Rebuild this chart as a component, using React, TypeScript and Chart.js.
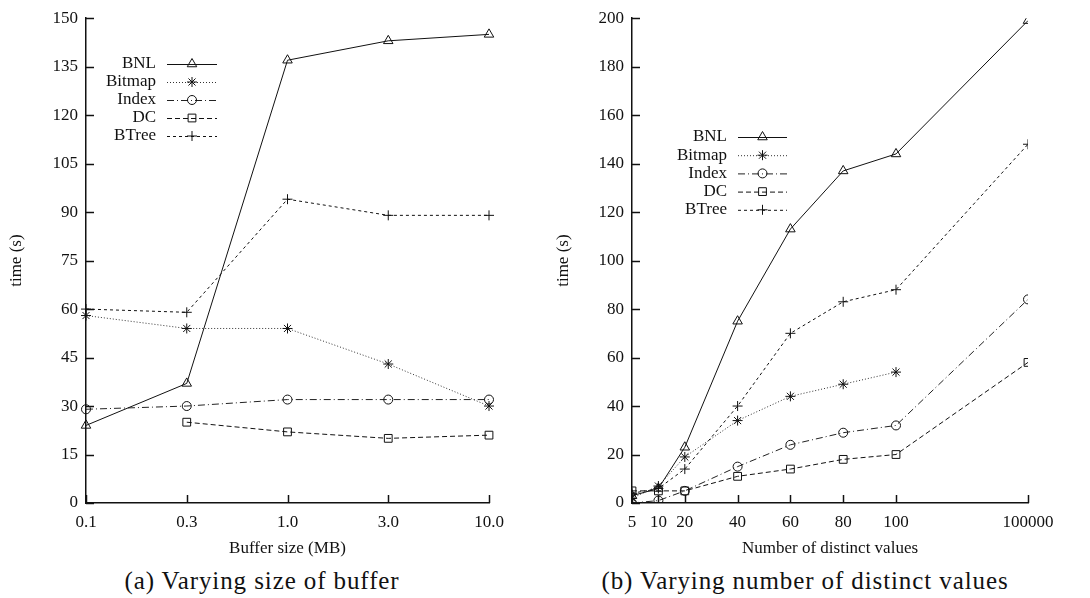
import React, { useEffect, useRef } from "react";
import { Chart, registerables } from "chart.js";

Chart.register(...registerables);

// ---- (a) buffer size experiment ----
const bufferLabels = ["0.1", "0.3", "1.0", "3.0", "10.0"];
const bufferBNL = [24, 37, 137, 143, 145];
const bufferBitmap = [58, 54, 54, 43, 30];
const bufferIndex = [29, 30, 32, 32, 32];
const bufferDC = [null, 25, 22, 20, 21];
const bufferBTree = [60, 59, 94, 89, 89];
const bufferYTicks = [0, 15, 30, 45, 60, 75, 90, 105, 120, 135, 150];

// ---- (b) distinct values experiment ----
// x positions of each setting on the axis, and the label printed under it
const distinctPositions = [0, 10, 20, 40, 60, 80, 100, 150];
const distinctLabels = ["5", "10", "20", "40", "60", "80", "100", "100000"];
const distinctBNL = [3, 6, 23, 75, 113, 137, 144, 199];
const distinctBitmap = [2, 7, 19, 34, 44, 49, 54, null];
const distinctIndex = [0, 1, 5, 15, 24, 29, 32, 84];
const distinctDC = [5, 5, 5, 11, 14, 18, 20, 58];
const distinctBTree = [4, 6, 14, 40, 70, 83, 88, 148];
const distinctYTicks = [0, 20, 40, 60, 80, 100, 120, 140, 160, 180, 200];

const seriesNames = ["BNL", "Bitmap", "Index", "DC", "BTree"];

const FONT = "Liberation Serif, DejaVu Serif, serif";
const INK = "#111";

type Style = { dash: number[]; point: string; radius: number; color: string };
const styles: Style[] = [
  { dash: [], point: "triangle", radius: 5.5, color: "#111" },
  { dash: [1, 2], point: "star", radius: 5, color: "#333" },
  { dash: [7, 3, 1, 3], point: "circle", radius: 4.5, color: "#222" },
  { dash: [5, 3], point: "rect", radius: 5.5, color: "#111" },
  { dash: [3, 3], point: "cross", radius: 5, color: "#111" },
];

function drawMarker(ctx: CanvasRenderingContext2D, kind: string, x: number, y: number, r: number) {
  ctx.beginPath();
  if (kind === "triangle") {
    const hx = r * Math.cos(Math.PI / 6);
    ctx.moveTo(x, y - r);
    ctx.lineTo(x - hx, y + r / 2);
    ctx.lineTo(x + hx, y + r / 2);
    ctx.closePath();
  } else if (kind === "star") {
    ctx.moveTo(x - r, y); ctx.lineTo(x + r, y);
    ctx.moveTo(x, y - r); ctx.lineTo(x, y + r);
    const d = r * Math.SQRT1_2;
    ctx.moveTo(x - d, y - d); ctx.lineTo(x + d, y + d);
    ctx.moveTo(x - d, y + d); ctx.lineTo(x + d, y - d);
  } else if (kind === "circle") {
    ctx.arc(x, y, r, 0, Math.PI * 2);
  } else if (kind === "rect") {
    const s = r * Math.SQRT1_2;
    ctx.rect(x - s, y - s, 2 * s, 2 * s);
  } else if (kind === "cross") {
    ctx.moveTo(x - r, y); ctx.lineTo(x + r, y);
    ctx.moveTo(x, y - r); ctx.lineTo(x, y + r);
  }
  ctx.stroke();
}

// Inward tick marks on the left and bottom axes
const inwardTicks = {
  id: "inwardTicks",
  afterDatasetsDraw(chart: any) {
    const { ctx, chartArea, scales } = chart;
    ctx.save();
    ctx.strokeStyle = INK;
    ctx.lineWidth = 1.5;
    ctx.setLineDash([]);
    const len = 8;
    scales.y.ticks.forEach((t: any) => {
      const y = Math.round(scales.y.getPixelForValue(t.value)) + 0.5;
      ctx.beginPath();
      ctx.moveTo(chartArea.left, y);
      ctx.lineTo(chartArea.left + len, y);
      ctx.stroke();
    });
    scales.x.ticks.forEach((_t: any, i: number) => {
      const x = Math.round(scales.x.getPixelForTick(i)) + 0.5;
      ctx.beginPath();
      ctx.moveTo(x, chartArea.bottom);
      ctx.lineTo(x, chartArea.bottom - len);
      ctx.stroke();
    });
    ctx.restore();
  },
};

// Key with the name to the left of a line sample and its marker
const keyBox = {
  id: "keyBox",
  afterDatasetsDraw(chart: any, _args: any, opts: any) {
    const { ctx } = chart;
    ctx.save();
    ctx.font = `17px ${FONT}`;
    ctx.textAlign = "right";
    ctx.textBaseline = "middle";
    seriesNames.forEach((name, i) => {
      const st = styles[i];
      const y = opts.top + i * opts.rowGap;
      ctx.fillStyle = INK;
      ctx.fillText(name, opts.textRight, y);
      ctx.strokeStyle = st.color;
      ctx.lineWidth = 1;
      ctx.setLineDash(st.dash);
      ctx.beginPath();
      ctx.moveTo(opts.lineStart, y + 0.5);
      ctx.lineTo(opts.lineEnd, y + 0.5);
      ctx.stroke();
      ctx.setLineDash([]);
      ctx.strokeStyle = INK;
      const mx = (opts.lineStart + opts.lineEnd) / 2;
      drawMarker(ctx, st.point, mx, y, st.radius);
    });
    ctx.restore();
  },
};

function makeDatasets(values: (number | null)[][], xs?: number[]) {
  return values.map((vals, i) => {
    const st = styles[i];
    return {
      label: seriesNames[i],
      data: xs ? vals.map((v, j) => ({ x: xs[j], y: v })) : vals,
      borderColor: st.color,
      borderWidth: 1,
      borderDash: st.dash,
      pointStyle: st.point,
      pointRadius: st.radius,
      pointBorderColor: INK,
      pointBorderWidth: 1,
      pointBackgroundColor: "rgba(0,0,0,0)",
      fill: false,
      tension: 0,
      spanGaps: false,
    };
  });
}

function baseY(ticks: number[], axisWidth: number, titlePad: number) {
  return {
    min: ticks[0],
    max: ticks[ticks.length - 1],
    afterBuildTicks: (scale: any) => {
      scale.ticks = ticks.map((v) => ({ value: v }));
    },
    afterFit: (scale: any) => {
      scale.width = axisWidth;
    },
    grid: { display: false, drawTicks: false },
    border: { display: true, color: INK, width: 1.5 },
    ticks: { color: INK, font: { family: FONT, size: 17 }, padding: 8 },
    title: {
      display: true,
      text: "time (s)",
      color: INK,
      font: { family: FONT, size: 17 },
      padding: { top: titlePad, bottom: 0 },
    },
  };
}

function xCommon(title: string) {
  return {
    afterFit: (scale: any) => {
      scale.height = 57;
    },
    grid: { display: false, drawTicks: false },
    border: { display: true, color: INK, width: 1.5 },
    title: {
      display: true,
      text: title,
      color: INK,
      font: { family: FONT, size: 17 },
      padding: { top: 0, bottom: 1 },
    },
  };
}

function BufferChart() {
  const ref = useRef<HTMLCanvasElement>(null);
  useEffect(() => {
    const chart = new Chart(ref.current!, {
      type: "line",
      data: {
        labels: bufferLabels,
        datasets: makeDatasets([bufferBNL, bufferBitmap, bufferIndex, bufferDC, bufferBTree]) as any,
      },
      options: {
        responsive: false,
        animation: false,
        layout: { padding: { top: 15, right: 56, left: 0, bottom: 0 } },
        plugins: {
          legend: { display: false },
          tooltip: { enabled: false },
          keyBox: { textRight: 156, lineStart: 167, lineEnd: 217, top: 64, rowGap: 18 },
        } as any,
        scales: {
          x: {
            type: "category",
            offset: false,
            ...xCommon("Buffer size (MB)"),
            ticks: { color: INK, font: { family: FONT, size: 17 }, padding: 9, maxRotation: 0, autoSkip: false },
          } as any,
          y: baseY(bufferYTicks, 86, 6) as any,
        },
      },
      plugins: [inwardTicks, keyBox],
    });
    return () => chart.destroy();
  }, []);
  return <canvas ref={ref} width={545} height={560} style={{ display: "block" }} />;
}

function DistinctChart() {
  const ref = useRef<HTMLCanvasElement>(null);
  useEffect(() => {
    const chart = new Chart(ref.current!, {
      type: "line",
      data: {
        datasets: makeDatasets(
          [distinctBNL, distinctBitmap, distinctIndex, distinctDC, distinctBTree],
          distinctPositions
        ) as any,
      },
      options: {
        responsive: false,
        animation: false,
        layout: { padding: { top: 15, right: 62, left: 0, bottom: 0 } },
        plugins: {
          legend: { display: false },
          tooltip: { enabled: false },
          keyBox: { textRight: 182, lineStart: 193, lineEnd: 242, top: 137, rowGap: 18.2 },
        } as any,
        scales: {
          x: {
            type: "linear",
            min: distinctPositions[0],
            max: distinctPositions[distinctPositions.length - 1],
            afterBuildTicks: (scale: any) => {
              scale.ticks = distinctPositions.map((v) => ({ value: v }));
            },
            ...xCommon("Number of distinct values"),
            ticks: {
              color: INK,
              font: { family: FONT, size: 17 },
              padding: 9,
              maxRotation: 0,
              autoSkip: false,
              callback: (_v: any, i: number) => distinctLabels[i],
            },
          } as any,
          y: baseY(distinctYTicks, 87, 8) as any,
        },
      },
      plugins: [inwardTicks, keyBox],
    });
    return () => chart.destroy();
  }, []);
  return <canvas ref={ref} width={545} height={560} style={{ display: "block" }} />;
}

const captionStyle: React.CSSProperties = {
  position: "absolute",
  top: 566,
  fontFamily: FONT,
  fontSize: 25,
  letterSpacing: 0.9,
  color: INK,
  whiteSpace: "nowrap",
  transform: "translateX(-50%)",
  lineHeight: "30px",
};

export default function App() {
  return (
    <div style={{ position: "fixed", left: 0, top: 0, width: 1090, height: 598, background: "#fff", overflow: "hidden" }}>
      <div style={{ position: "absolute", left: 0, top: 0 }}>
        <BufferChart />
      </div>
      <div style={{ position: "absolute", left: 545, top: 0 }}>
        <DistinctChart />
      </div>
      <div style={{ ...captionStyle, left: 262 }}>(a) Varying size of buffer</div>
      <div style={{ ...captionStyle, left: 805 }}>(b) Varying number of distinct values</div>
    </div>
  );
}
